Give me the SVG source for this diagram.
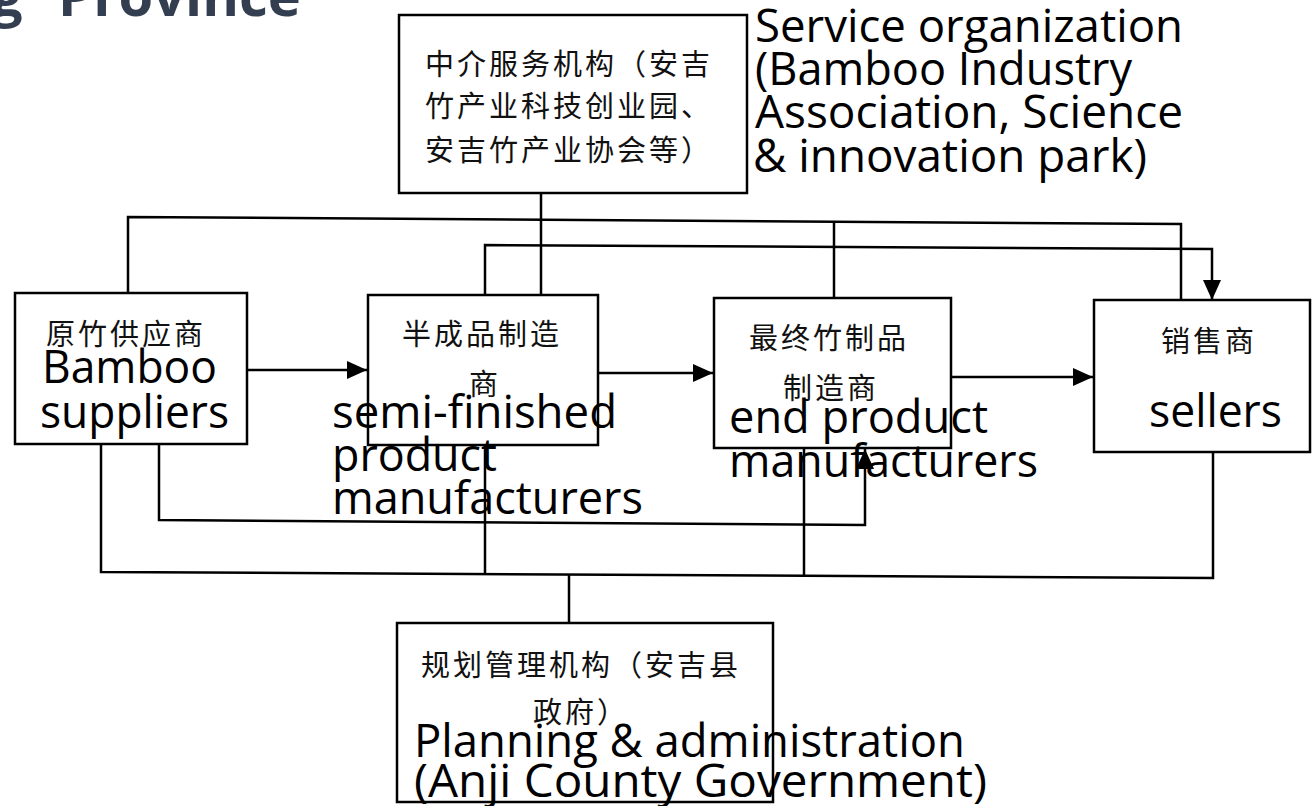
<svg xmlns="http://www.w3.org/2000/svg" width="1312" height="806" viewBox="0 0 1312 806">
<style>
.box{fill:#ffffff;stroke:#000;stroke-width:2.5}
.ln{fill:none;stroke:#000;stroke-width:2.5;stroke-linejoin:miter}
.cn{font-family:"Noto Sans CJK SC","Noto Sans CJK JP",sans-serif;font-size:29px;letter-spacing:3px;fill:#111;dominant-baseline:central}
.en{font-family:"Open Sans","Noto Sans","Liberation Sans",sans-serif;font-size:45px;fill:#000}
.title{font-family:"Open Sans","Noto Sans",sans-serif;font-weight:bold;font-size:56px;fill:#333f50}
</style>
<defs>
<marker id="arr" markerUnits="userSpaceOnUse" markerWidth="22" markerHeight="20" refX="20" refY="9" orient="auto">
<path d="M0,0 L20,9 L0,18 z" fill="#000"/>
</marker>
</defs>
<rect width="1312" height="806" fill="#fff"/>
<g id="title"><text class="title" y="16"><tspan x="-9">g</tspan><tspan x="58">Province</tspan></text></g>
<g id="connectors">
<line class="ln" x1="541" y1="193" x2="541" y2="295"/>
<polyline class="ln" points="128,293 128,217 1181,224 1181,300"/>
<line class="ln" x1="834" y1="222" x2="834" y2="298"/>
<polyline class="ln" points="485,295 485,245 1212,249 1212,300" marker-end="url(#arr)"/>
<line class="ln" x1="247" y1="370" x2="367" y2="370" marker-end="url(#arr)"/>
<line class="ln" x1="598" y1="373" x2="713" y2="373" marker-end="url(#arr)"/>
<line class="ln" x1="951" y1="377" x2="1093" y2="377" marker-end="url(#arr)"/>
<polyline class="ln" points="159,444 159,520 865,525 865,449" marker-end="url(#arr)"/>
<polyline class="ln" points="101,444 101,572 1213,578 1213,452"/>
<line class="ln" x1="485" y1="445" x2="485" y2="573"/>
<line class="ln" x1="804" y1="448" x2="804" y2="576"/>
<line class="ln" x1="569" y1="575" x2="569" y2="623"/>
</g>
<g id="service">
<rect class="box" x="399" y="15" width="348" height="178"/>
<text class="cn" x="425" y="62">中介服务机构（安吉</text>
<text class="cn" x="425" y="104">竹产业科技创业园、</text>
<text class="cn" x="425" y="148">安吉竹产业协会等）</text>
<text class="en" x="755" y="42" textLength="428" lengthAdjust="spacingAndGlyphs">Service organization</text>
<text class="en" x="755" y="85" textLength="377" lengthAdjust="spacingAndGlyphs">(Bamboo Industry</text>
<text class="en" x="755" y="128" textLength="428" lengthAdjust="spacingAndGlyphs">Association, Science</text>
<text class="en" x="753" y="172" textLength="394" lengthAdjust="spacingAndGlyphs">&amp; innovation park)</text>
</g>
<g id="suppliers">
<rect class="box" x="15" y="293" width="232" height="151"/>
<text class="cn" x="46" y="332" letter-spacing="4">原竹供应商</text>
<text class="en" x="42" y="383" textLength="175" lengthAdjust="spacingAndGlyphs">Bamboo</text>
<text class="en" x="40" y="428" textLength="189" lengthAdjust="spacingAndGlyphs">suppliers</text>
</g>
<g id="semi">
<rect class="box" x="368" y="295" width="230" height="150"/>
<text class="cn" x="402" y="332">半成品制造</text>
<text class="cn" x="469" y="382">商</text>
<text class="en" x="332" y="428" textLength="285" lengthAdjust="spacingAndGlyphs">semi-finished</text>
<text class="en" x="332" y="471" textLength="165" lengthAdjust="spacingAndGlyphs">product</text>
<text class="en" x="332" y="514" textLength="311" lengthAdjust="spacingAndGlyphs">manufacturers</text>
</g>
<g id="endprod">
<rect class="box" x="714" y="298" width="237" height="150"/>
<text class="cn" x="749" y="336">最终竹制品</text>
<text class="cn" x="783" y="386">制造商</text>
<text class="en" x="729" y="433" textLength="259" lengthAdjust="spacingAndGlyphs">end product</text>
<text class="en" x="729" y="477" textLength="309" lengthAdjust="spacingAndGlyphs">manufacturers</text>
</g>
<g id="sellers">
<rect class="box" x="1094" y="300" width="216" height="152"/>
<text class="cn" x="1161" y="339">销售商</text>
<text class="en" x="1149" y="427" textLength="133" lengthAdjust="spacingAndGlyphs">sellers</text>
</g>
<g id="planning">
<rect class="box" x="397" y="623" width="376" height="179"/>
<text class="cn" x="421" y="663">规划管理机构（安吉县</text>
<text class="cn" x="533" y="710">政府）</text>
<text class="en" x="414" y="757" textLength="551" lengthAdjust="spacingAndGlyphs">Planning &amp; administration</text>
<text class="en" x="414" y="797" textLength="573" lengthAdjust="spacingAndGlyphs">(Anji County Government)</text>
</g>
</svg>
